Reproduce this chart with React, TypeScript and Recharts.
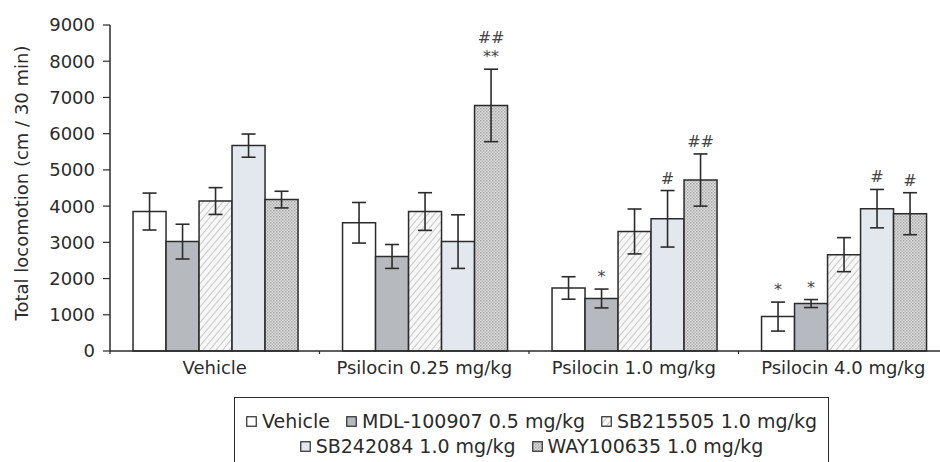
import { BarChart, Bar, XAxis, YAxis, ErrorBar, LabelList } from 'recharts'

const categories = ['Vehicle', 'Psilocin 0.25 mg/kg', 'Psilocin 1.0 mg/kg', 'Psilocin 4.0 mg/kg']

const vehicle = [3850, 3540, 1740, 950]
const vehicleErr = [510, 560, 310, 400]
const mdl = [3020, 2610, 1450, 1310]
const mdlErr = [480, 330, 260, 110]
const sb215505 = [4140, 3850, 3300, 2660]
const sb215505Err = [370, 520, 620, 470]
const sb242084 = [5670, 3020, 3650, 3930]
const sb242084Err = [320, 740, 780, 530]
const way = [4180, 6780, 4720, 3790]
const wayErr = [230, 1000, 720, 580]

// significance marks, stacked top to bottom
const vehicleMarks = [[], [], [], ['*']]
const mdlMarks = [[], [], ['*'], ['*']]
const sb215505Marks = [[], [], [], []]
const sb242084Marks = [[], [], ['#'], ['#']]
const wayMarks = [[], ['##', '**'], ['##'], ['#']]

const yTicks = [0, 1000, 2000, 3000, 4000, 5000, 6000, 7000, 8000, 9000]

const series = [
  { key: 'veh', name: 'Vehicle', values: vehicle, err: vehicleErr, marks: vehicleMarks, fill: '#ffffff' },
  { key: 'mdl', name: 'MDL-100907 0.5 mg/kg', values: mdl, err: mdlErr, marks: mdlMarks, fill: '#b6babf' },
  { key: 'sb5', name: 'SB215505 1.0 mg/kg', values: sb215505, err: sb215505Err, marks: sb215505Marks, fill: 'url(#hatch)' },
  { key: 'sb4', name: 'SB242084 1.0 mg/kg', values: sb242084, err: sb242084Err, marks: sb242084Marks, fill: '#e3e7ee' },
  { key: 'way', name: 'WAY100635 1.0 mg/kg', values: way, err: wayErr, marks: wayMarks, fill: 'url(#dots)' },
]

const data = categories.map((name, i) => {
  const row: Record<string, any> = { name }
  series.forEach((s) => {
    row[s.key] = s.values[i]
    row[s.key + 'Err'] = s.err[i]
  })
  return row
})

const FONT = 'DejaVu Sans, sans-serif'
const INK = '#2b2b2b'

function markLabel(values: number[], err: number[], marks: string[][]) {
  return (props: any) => {
    const { index } = props
    const vb = props.viewBox || {}
    const x = props.x ?? vb.x
    const y = props.y ?? vb.y
    const width = props.width ?? vb.width
    const height = props.height ?? vb.height
    const lines = marks[index] || []
    if (!lines.length) return null
    const perUnit = Math.abs(height) / values[index]
    const top = y - err[index] * perUnit
    const cx = x + width / 2
    return (
      <g>
        {lines.map((t, k) => (
          <text
            key={k}
            x={cx}
            y={top - 7 - (lines.length - 1 - k) * 19}
            textAnchor="middle"
            fontSize={16}
            fontFamily={FONT}
            fill="#444"
          >
            {t}
          </text>
        ))}
      </g>
    )
  }
}

// category ticks with a short mark at each group boundary
function CategoryTick(props: any) {
  const { x, y, payload, width } = props
  const band = width / categories.length
  const axisY = y - 8
  return (
    <g>
      {payload.index === 0 && <line x1={x - band / 2} y1={axisY} x2={x - band / 2} y2={axisY + 3} stroke={INK} strokeWidth={1.2} />}
      <line x1={x + band / 2} y1={axisY} x2={x + band / 2} y2={axisY + 3} stroke={INK} strokeWidth={1.2} />
      <text x={x} y={y + 15} textAnchor="middle" fontSize={18} fontFamily={FONT} fill={INK}>
        {payload.value}
      </text>
    </g>
  )
}

function LegendBox() {
  const rows = [series.slice(0, 3), series.slice(3)]
  return (
    <div
      style={{
        position: 'absolute',
        left: 234,
        top: 397,
        width: 595,
        height: 90,
        border: `1.2px solid ${INK}`,
        fontFamily: FONT,
        fontSize: 19,
        color: INK,
        textAlign: 'center',
        lineHeight: '25px',
        paddingTop: 11,
        boxSizing: 'border-box',
      }}
    >
      {rows.map((row, r) => (
        <div key={r} style={{ whiteSpace: 'nowrap' }}>
          {row.map((s, k) => (
            <span key={s.key} style={{ marginLeft: k === 0 ? 0 : 16 }}>
              <svg width={11} height={11} style={{ marginRight: 5, verticalAlign: 'middle', position: 'relative', top: -1 }}>
                <rect x={0.75} y={0.75} width={9.5} height={9.5} fill={s.fill} stroke={INK} strokeWidth={1.2} />
              </svg>
              {s.name}
            </span>
          ))}
        </div>
      ))}
    </div>
  )
}

export default function App() {
  return (
    <div style={{ position: 'absolute', left: 0, top: 0, width: 940, height: 462, overflow: 'hidden', background: '#fff' }}>
      <BarChart
        width={950}
        height={462}
        data={data}
        margin={{ top: 25, right: 2, bottom: 81, left: 0 }}
        barCategoryGap="11%"
        barGap={0}
      >
        <defs>
          <pattern id="hatch" patternUnits="userSpaceOnUse" width={5} height={5} patternTransform="rotate(40)">
            <rect width={5} height={5} fill="#f7f7f7" />
            <line x1={0} y1={0} x2={0} y2={5} stroke="#a9a9a9" strokeWidth={1.2} />
          </pattern>
          <pattern id="dots" patternUnits="userSpaceOnUse" width={3} height={3}>
            <rect width={3} height={3} fill="#e0e0e0" />
            <rect x={0} y={0} width={1.5} height={1.5} fill="#a2a2a2" />
            <rect x={1.5} y={1.5} width={1.5} height={1.5} fill="#b4b4b4" />
          </pattern>
        </defs>
        <XAxis
          dataKey="name"
          axisLine={{ stroke: INK, strokeWidth: 1.5 }}
          tickLine={false}
          tick={<CategoryTick />}
          height={30}
          interval={0}
        />
        <YAxis
          domain={[0, 9000]}
          ticks={yTicks}
          width={110}
          tickSize={7}
          tickMargin={8}
          axisLine={{ stroke: INK, strokeWidth: 1.5 }}
          tickLine={{ stroke: INK, strokeWidth: 1.2 }}
          tick={{ fill: INK, fontSize: 18, fontFamily: FONT }}
          label={{
            content: (p: any) => {
              const vb = p.viewBox || { y: 25, height: 326 }
              const cy = vb.y + vb.height / 2 - 5
              return (
                <text
                  x={23}
                  y={cy}
                  transform={`rotate(-90 23 ${cy})`}
                  textAnchor="middle"
                  dominantBaseline="middle"
                  fontSize={18}
                  fontFamily={FONT}
                  fill={INK}
                >
                  Total locomotion (cm / 30 min)
                </text>
              )
            },
          }}
        />
        {series.map((s) => (
          <Bar key={s.key} dataKey={s.key} name={s.name} fill={s.fill} stroke={INK} strokeWidth={1.5} isAnimationActive={false}>
            <ErrorBar dataKey={s.key + 'Err'} width={7} stroke={INK} strokeWidth={1.6} isAnimationActive={false} />
            <LabelList dataKey={s.key} content={markLabel(s.values, s.err, s.marks)} />
          </Bar>
        ))}
      </BarChart>
      <LegendBox />
    </div>
  )
}
